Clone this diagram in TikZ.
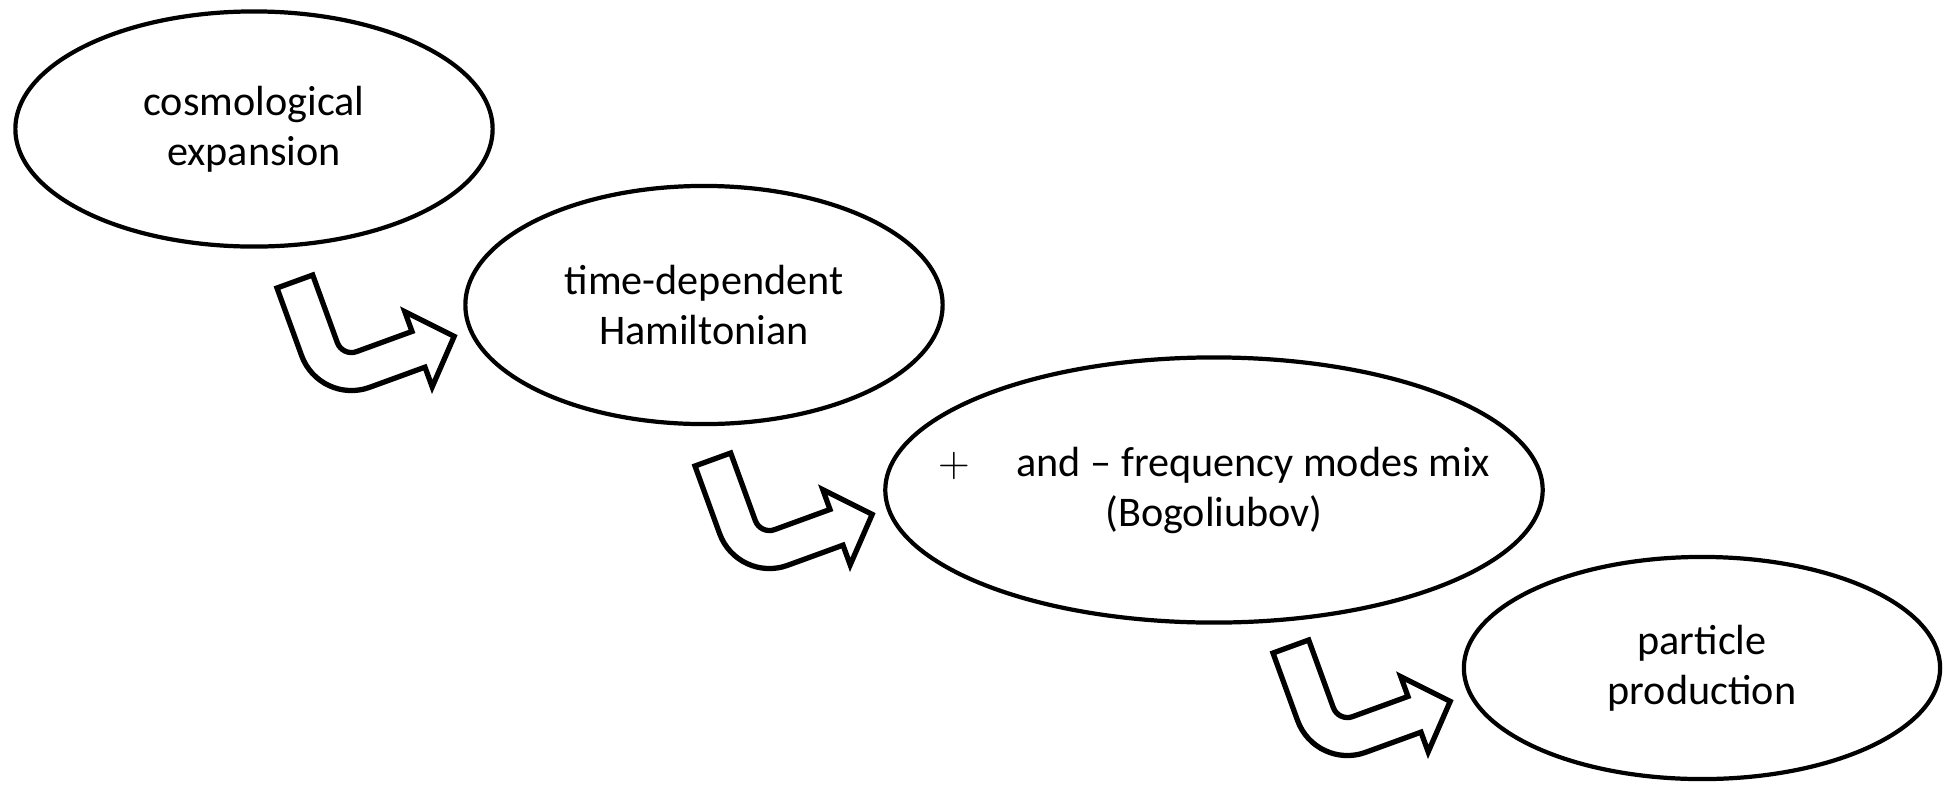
\documentclass[tikz,border=0pt]{standalone}
\usepackage{fontspec}
\setmainfont{Carlito}
\usetikzlibrary{shapes.geometric,positioning}

\tikzset{
  bubble/.style={ellipse, draw, line width=1.2pt, inner sep=0pt, align=center,
    font=\fontsize{12}{14.2}\selectfont},
  uturn/.style={draw, fill=white, line width=1.5pt, line join=miter}
}

\begin{document}
\begin{tikzpicture}[x=0.01cm, y=0.01cm]
    \useasboundingbox (0,0) rectangle (1953,-784);

    % stages
    \node[bubble, minimum width=4.77cm, minimum height=2.35cm] (expansion) at (254,-129) {cosmological\\expansion};
    \node[bubble, minimum width=4.77cm, minimum height=2.38cm] (hamiltonian) at (704,-305) {time-dependent\\Hamiltonian};
    \node[bubble, minimum width=6.57cm, minimum height=2.65cm] (bogoliubov) at (1214,-490) {};
    \node[font=\fontsize{12}{14.2}\selectfont, align=center] (mixing) at (bogoliubov.center)
        {$+$\hspace{1.1em}and -- frequency modes mix\\(Bogoliubov)};
    \node[bubble, minimum width=4.76cm, minimum height=2.22cm] (production) at (1702,-668) {particle\\production};

    % bent arrows between the stages
    \foreach \ax/\ay in {277/-288, 695/-466, 1273/-653}
        \draw[uturn, shift={(\ax,\ay)}, rotate=20]
            (0,0) -- (38,0) -- (38,-72) arc[start angle=180, end angle=270, radius=15]
            -- (112,-87) -- (112,-66) -- (150,-106) -- (112,-146) -- (112,-125)
            -- (53,-125) arc[start angle=270, end angle=180, radius=53] -- cycle;
\end{tikzpicture}
\end{document}
